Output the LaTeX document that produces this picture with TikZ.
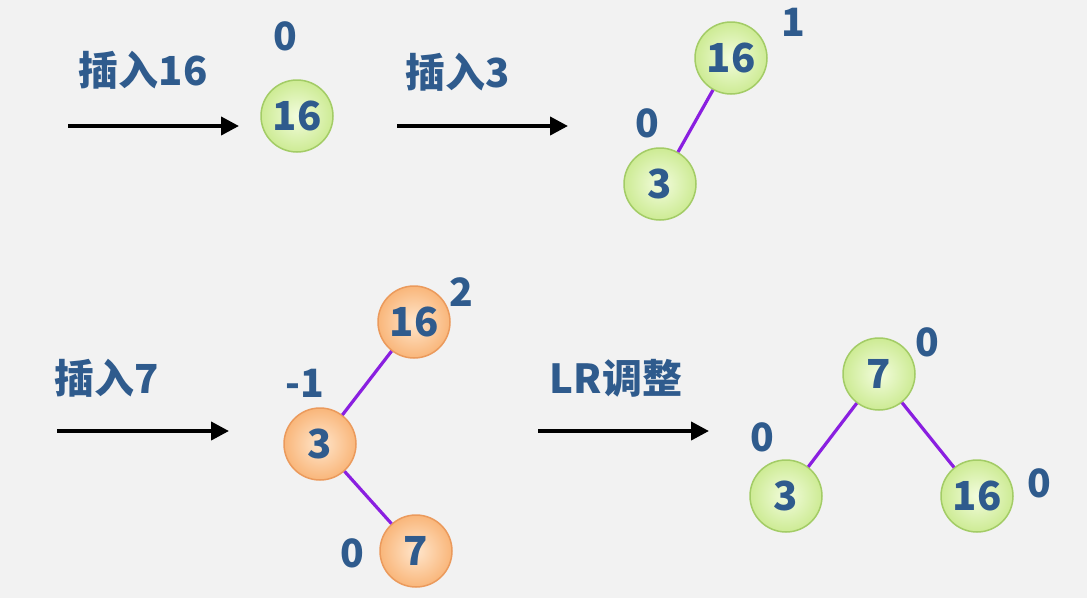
\documentclass[tikz,border=0pt]{standalone}
\usepackage{fontspec}
\newfontfamily\cjk{Noto Sans CJK SC}
\usetikzlibrary{arrows.meta}
\definecolor{bg}{HTML}{F2F2F2}
\definecolor{txt}{HTML}{2F5B8D}
\definecolor{gin}{HTML}{F2FCDD}
\definecolor{gout}{HTML}{CDEB94}
\definecolor{gbd}{HTML}{A3CC66}
\definecolor{oin}{HTML}{FFE6CC}
\definecolor{oout}{HTML}{F9B67A}
\definecolor{obd}{HTML}{EB9A5C}
\definecolor{edge}{HTML}{8A1FE0}
\tikzset{
  lbl/.style={text=txt, font=\cjk\bfseries\fontsize{40}{44}\selectfont, inner sep=0pt},
  bal/.style={text=txt, font=\cjk\bfseries\fontsize{39}{44}\selectfont, inner sep=0pt},
  gnode/.style={circle, minimum size=72pt, draw=gbd, line width=1.5pt, inner color=gin, outer color=gout, text=txt, font=\cjk\bfseries\fontsize{40}{44}\selectfont, inner sep=0pt},
  onode/.style={circle, minimum size=72pt, draw=obd, line width=1.5pt, inner color=oin, outer color=oout, text=txt, font=\cjk\bfseries\fontsize{40}{44}\selectfont, inner sep=0pt},
  arr/.style={line width=4pt, -{Triangle[length=18pt,width=18pt]}},
  tedge/.style={edge, line width=3.2pt}
}
\begin{document}
\begin{tikzpicture}[x=1pt,y=-1pt]
\fill[bg] (0,0) rectangle (1087,598);
\useasboundingbox (0,0) rectangle (1087,598);
% row 1
\node[lbl] (t1) at (143,70) {插入16};
\coordinate (a1s) at (68,126); \coordinate (a1e) at (239,126);
\draw[arr] (a1s) -- (a1e);
\node[gnode] (n16a) at (297,116) {16};
\node[bal] (b16a) at (285,36) {0};
\node[lbl] (t2) at (458,72) {插入3};
\coordinate (a2s) at (397,126); \coordinate (a2e) at (568,126);
\draw[arr] (a2s) -- (a2e);
\node[gnode] (n16b) at (731,58) {16};
\node[gnode] (n3b) at (660,184) {3};
\draw[tedge] (n16b) -- (n3b);
\node[bal] (b16b) at (793,22) {1};
\node[bal] (b3b) at (647,123) {0};
% row 2
\node[lbl] (t3) at (107,378) {插入7};
\coordinate (a3s) at (57,431); \coordinate (a3e) at (229,431);
\draw[arr] (a3s) -- (a3e);
\node[onode] (n16c) at (414,322) {16};
\node[onode] (n3c) at (320,444) {3};
\node[onode] (n7c) at (416,551) {7};
\draw[tedge] (n16c) -- (n3c);
\draw[tedge] (n3c) -- (n7c);
\node[bal] (b16c) at (461,292) {2};
\node[bal] (b3c) at (305,383) {-1};
\node[bal] (b7c) at (352,553) {0};
\node[lbl] (t4) at (616,378) {LR调整};
\coordinate (a4s) at (538,431); \coordinate (a4e) at (709,431);
\draw[arr] (a4s) -- (a4e);
\node[gnode] (n7d) at (879,374) {7};
\node[gnode] (n3d) at (786,496) {3};
\node[gnode] (n16d) at (977,496) {16};
\draw[tedge] (n7d) -- (n3d);
\draw[tedge] (n7d) -- (n16d);
\node[bal] (b7d) at (927,342) {0};
\node[bal] (b3d) at (762,437) {0};
\node[bal] (b16d) at (1039,483) {0};
\end{tikzpicture}
\end{document}
